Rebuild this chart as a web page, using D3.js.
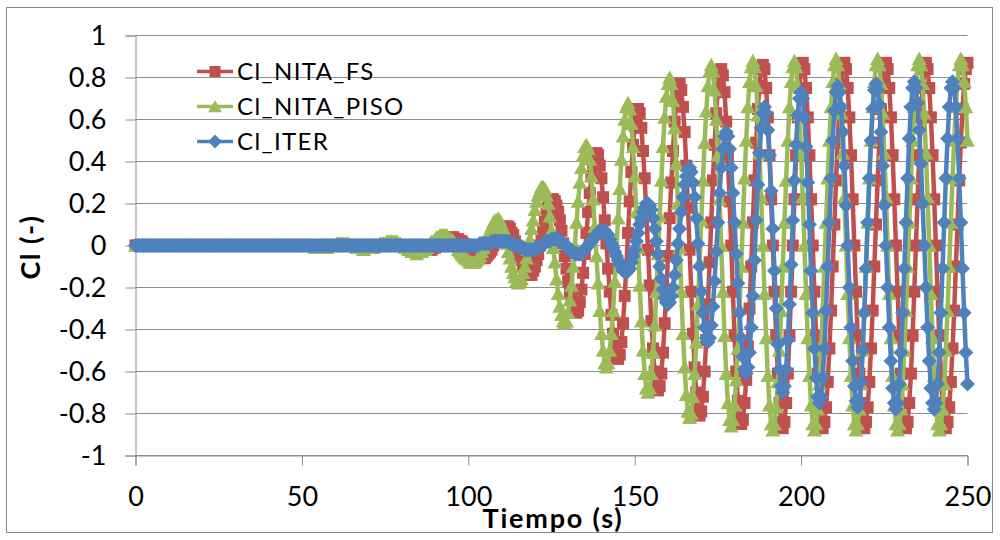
<!DOCTYPE html>
<html><head><meta charset="utf-8">
<script src="https://cdn.jsdelivr.net/npm/d3@7"></script>
<style>
body{margin:0;background:#fff}
svg{display:block}
text{font-family:Lato,"Open Sans","DejaVu Sans",sans-serif}
</style>
</head><body>
<svg id="c" width="1000" height="540"></svg>
<script>
// ---------- data (one sample every 0.5 s from t = 0 to 250 s) ----------
const seriesNames = ["Cl_NITA_FS", "Cl_NITA_PISO", "Cl_ITER"];
const sampleStep = 0.5;

const clNitaFs = [
0,0,0,0,0,0,0,0,0,0, 0,0,0,0,0,0,0,0,0,0,
0,0,0,0,0,0,0,0,0,0, 0,0,0,0,0,0,0,0,0,0,
0,0,0,0,0,0,0,0,0,0, 0,0,0,0,0,0,0,0,0,0,
0,0,0,0,0,0,0,0,0,0, 0,0,0,0,0,0,0,0,0,0,
0,0,0,0,0,0,0,0,0,0, 0,0,0,0,0,0,0,0,0,0,
0,0,0,0,0,0,0,0,0,0, 0,0,0,0,0,0,0,0,0,0,
0,0,0,0,0,0,0,0,0,0, 0,0,0,0,0,0,0,0,0,0,
0,0,0,0,0,0,0,0,0,0, 0,0,0,0,0,0,0,0,0,0,
0,
0,0,0,0,-0.01,-0.01,-0.01,-0.01,-0.01,-0.02,-0.02,-0.02,-0.02,-0.02,-0.02,
-0.02,-0.02,-0.02,-0.01,-0.01,0,0,0.01,0.01,0.02,0.02,0.03,0.03,0.03,0.03,0.04,
0.03,0.03,0.03,0.02,0.02,0.01,0,0,-0.01,-0.02,-0.03,-0.04,-0.04,-0.05,-0.05,-0.06,-0.06,-0.06,
-0.06,-0.05,-0.04,-0.03,-0.02,0,0.02,0.03,0.05,0.06,0.07,0.08,0.09,0.09,
0.09,0.08,0.06,0.05,0.02,0,-0.03,-0.05,-0.07,-0.1,-0.11,-0.13,-0.14,-0.14,
-0.14,-0.12,-0.1,-0.07,-0.04,0,0.04,0.08,0.12,0.15,0.18,0.2,0.22,0.22,
0.21,0.19,0.16,0.12,0.07,0.01,-0.05,-0.11,-0.17,-0.22,-0.26,-0.29,-0.31,-0.32,
-0.31,-0.27,-0.21,-0.13,-0.04,0.06,0.16,0.25,0.33,0.39,0.43,0.44,
0.43,0.38,0.32,0.23,0.12,0.01,-0.11,-0.22,-0.33,-0.42,-0.48,-0.53,-0.54,
-0.52,-0.46,-0.37,-0.24,-0.1,0.06,0.21,0.35,0.48,0.57,0.63,0.65,
0.63,0.56,0.45,0.32,0.15,-0.02,-0.19,-0.36,-0.49,-0.6,-0.67,-0.69,
-0.67,-0.61,-0.51,-0.37,-0.22,-0.05,0.13,0.3,0.45,0.59,0.69,0.75,0.77,
0.74,0.66,0.54,0.38,0.18,-0.02,-0.22,-0.42,-0.58,-0.7,-0.78,-0.81,
-0.79,-0.72,-0.6,-0.45,-0.28,-0.08,0.11,0.31,0.48,0.63,0.75,0.82,0.84,
0.81,0.73,0.59,0.42,0.21,0,-0.22,-0.43,-0.6,-0.74,-0.82,-0.85,
-0.83,-0.75,-0.64,-0.48,-0.3,-0.1,0.11,0.31,0.49,0.65,0.76,0.84,0.86,
0.84,0.75,0.61,0.43,0.22,0,-0.22,-0.43,-0.61,-0.75,-0.84,-0.87,
-0.84,-0.75,-0.61,-0.43,-0.22,0,0.22,0.43,0.61,0.75,0.84,0.87,
0.84,0.75,0.61,0.43,0.22,0,-0.22,-0.43,-0.61,-0.75,-0.84,-0.87,
-0.84,-0.77,-0.65,-0.49,-0.31,-0.1,0.1,0.31,0.49,0.65,0.77,0.84,0.87,
0.84,0.75,0.61,0.43,0.22,0,-0.22,-0.43,-0.61,-0.75,-0.84,-0.87,
-0.84,-0.77,-0.65,-0.49,-0.31,-0.1,0.1,0.31,0.49,0.65,0.77,0.84,0.87,
0.84,0.75,0.61,0.43,0.22,0,-0.22,-0.43,-0.61,-0.75,-0.84,-0.87,
-0.84,-0.75,-0.61,-0.43,-0.22,0,0.22,0.43,0.61,0.75,0.84,0.87,
0.84,0.75,0.61,0.43,0.22,0,-0.22,-0.43,-0.61,-0.75,-0.84,-0.87,
-0.84,-0.77,-0.65,-0.49,-0.31,-0.1,0.1,0.31,0.49,0.65,0.77,0.84,0.87
];

const clNitaPiso = [
0,0,0,0,0,0,0,0,0,0, 0,0,0,0,0,0,0,0,0,0,
0,0,0,0,0,0,0,0,0,0, 0,0,0,0,0,0,0,0,0,0,
0,0,0,0,0,0,0,0,0,0, 0,0,0,0,0,0,0,0,0,0,
0,0,0,0,0,0,0,0,0,0, 0,0,0,0,0,0,0,0,0,0,
0,0,0,0,0,0,0,0,0,0, 0,0,0,0,0,0,0,0,0,0,
0,0,0,0,0,
0,0,0,-0.01,-0.01,-0.01,-0.01,-0.01,
-0.01,-0.01,-0.01,0,0,0,0,0,0.01,0.01,0.01,0.01,
0.01,0.01,0.01,0.01,0,0,0,0,-0.01,-0.01,-0.01,-0.01,-0.02,
-0.01,-0.01,-0.01,-0.01,-0.01,-0.01,0,0,0,0.01,0.01,0.01,0.01,0.02,0.02,0.02,0.02,0.02,
0.02,0.02,0.01,0.01,0,0,-0.01,-0.01,-0.02,-0.02,-0.03,-0.03,-0.03,-0.04,
-0.03,-0.03,-0.03,-0.02,-0.02,-0.01,0,0.01,0.02,0.02,0.03,0.04,0.04,0.05,0.05,0.05,
0.05,0.05,0.04,0.03,0.03,0.02,0.01,0,-0.02,-0.03,-0.04,-0.05,-0.06,-0.06,-0.07,-0.08,-0.08,-0.08,
-0.08,-0.07,-0.06,-0.05,-0.03,-0.01,0.01,0.03,0.05,0.07,0.09,0.11,0.12,0.12,0.13,
0.12,0.1,0.08,0.05,0.01,-0.03,-0.06,-0.1,-0.13,-0.15,-0.17,-0.18,
-0.17,-0.16,-0.13,-0.1,-0.06,-0.02,0.03,0.08,0.12,0.17,0.21,0.24,0.26,0.28,0.28,
0.27,0.24,0.2,0.14,0.07,-0.01,-0.08,-0.16,-0.23,-0.29,-0.33,-0.36,-0.37,
-0.36,-0.32,-0.26,-0.19,-0.1,0,0.11,0.21,0.3,0.37,0.43,0.47,0.48,
0.46,0.41,0.33,0.22,0.09,-0.05,-0.18,-0.31,-0.42,-0.5,-0.56,-0.58,
-0.56,-0.5,-0.42,-0.31,-0.17,-0.03,0.13,0.27,0.41,0.52,0.6,0.66,0.68,
0.65,0.58,0.47,0.33,0.16,-0.01,-0.19,-0.36,-0.5,-0.61,-0.68,-0.7,
-0.68,-0.61,-0.51,-0.38,-0.22,-0.04,0.14,0.31,0.47,0.61,0.71,0.77,0.8,
0.77,0.69,0.56,0.39,0.2,-0.01,-0.22,-0.42,-0.58,-0.71,-0.79,-0.82,
-0.8,-0.72,-0.61,-0.46,-0.28,-0.08,0.12,0.31,0.49,0.64,0.76,0.83,0.86,
0.83,0.74,0.6,0.43,0.22,0,-0.22,-0.43,-0.61,-0.75,-0.83,-0.86,
-0.83,-0.76,-0.64,-0.49,-0.3,-0.1,0.11,0.32,0.5,0.66,0.78,0.85,0.88,
0.85,0.76,0.62,0.44,0.23,0,-0.23,-0.44,-0.62,-0.76,-0.85,-0.88,
-0.85,-0.77,-0.65,-0.5,-0.31,-0.1,0.11,0.31,0.5,0.66,0.78,0.85,0.88,
0.85,0.76,0.62,0.44,0.23,0,-0.23,-0.44,-0.62,-0.76,-0.85,-0.88,
-0.85,-0.78,-0.66,-0.5,-0.31,-0.1,0.11,0.32,0.5,0.66,0.78,0.86,0.89,
0.86,0.77,0.63,0.44,0.23,0,-0.23,-0.44,-0.62,-0.76,-0.85,-0.88,
-0.85,-0.78,-0.66,-0.5,-0.31,-0.1,0.11,0.32,0.5,0.66,0.78,0.86,0.89,
0.86,0.77,0.63,0.44,0.23,0,-0.23,-0.44,-0.62,-0.76,-0.85,-0.88,
-0.85,-0.78,-0.66,-0.5,-0.31,-0.1,0.11,0.32,0.5,0.66,0.78,0.86,0.89,
0.86,0.77,0.63,0.44,0.23,0,-0.23,-0.44,-0.62,-0.76,-0.85,-0.88,
-0.85,-0.78,-0.66,-0.5,-0.31,-0.1,0.11,0.32,0.5,0.66,0.78,0.86,0.89,
0.86,0.78,0.66,0.5
];

const clIter = [
0,0,0,0,0,0,0,0,0,0, 0,0,0,0,0,0,0,0,0,0,
0,0,0,0,0,0,0,0,0,0, 0,0,0,0,0,0,0,0,0,0,
0,0,0,0,0,0,0,0,0,0, 0,0,0,0,0,0,0,0,0,0,
0,0,0,0,0,0,0,0,0,0, 0,0,0,0,0,0,0,0,0,0,
0,0,0,0,0,0,0,0,0,0, 0,0,0,0,0,0,0,0,0,0,
0,0,0,0,0,0,0,0,0,0, 0,0,0,0,0,0,0,0,0,0,
0,0,0,0,0,0,0,0,0,0, 0,0,0,0,0,0,0,0,0,0,
0,0,0,0,0,0,0,0,0,0, 0,0,0,0,0,0,0,0,0,0,
0,0,0,0,0,0,0,0,0,0, 0,0,0,0,0,0,0,0,0,0,
0,0,0,0,0,0,0,0,0,0, 0,0,0,0,0,0,0,0,0,0,
0,
0,0,0,0,0,0,0.01,0.01,0.01,0.01,0.01,0.01,0.01,0.02,0.02,0.02,0.02,0.02,0.02,0.02,
0.02,0.02,0.02,0.02,0.01,0.01,0.01,0,0,0,-0.01,-0.01,-0.01,-0.02,-0.02,-0.02,-0.02,-0.02,
-0.02,-0.02,-0.01,-0.01,-0.01,0,0.01,0.01,0.02,0.02,0.02,0.03,0.03,0.03,
0.03,0.03,0.02,0.02,0.01,0,0,-0.01,-0.02,-0.03,-0.03,-0.04,-0.04,-0.04,
-0.04,-0.04,-0.03,-0.02,-0.01,0,0.01,0.02,0.03,0.04,0.05,0.06,0.07,0.07,0.07,
0.07,0.06,0.05,0.03,0.01,-0.01,-0.03,-0.05,-0.07,-0.09,-0.1,-0.12,-0.12,-0.13,
-0.12,-0.11,-0.08,-0.05,-0.02,0.02,0.06,0.1,0.13,0.16,0.18,0.2,0.2,
0.19,0.17,0.13,0.08,0.02,-0.04,-0.1,-0.16,-0.21,-0.25,-0.27,-0.28,
-0.27,-0.24,-0.2,-0.14,-0.07,0.01,0.08,0.16,0.23,0.29,0.33,0.36,0.37,
0.35,0.3,0.23,0.13,0.01,-0.1,-0.22,-0.32,-0.39,-0.44,-0.46,
-0.44,-0.38,-0.29,-0.17,-0.03,0.11,0.25,0.37,0.46,0.52,0.54,
0.52,0.46,0.37,0.25,0.11,-0.04,-0.18,-0.32,-0.44,-0.53,-0.59,-0.61,
-0.58,-0.51,-0.39,-0.24,-0.07,0.12,0.29,0.44,0.56,0.63,0.66,
0.63,0.55,0.43,0.26,0.08,-0.12,-0.3,-0.47,-0.59,-0.67,-0.7,
-0.67,-0.59,-0.45,-0.28,-0.09,0.12,0.31,0.48,0.62,0.7,0.73,
0.7,0.61,0.47,0.3,0.1,-0.12,-0.32,-0.49,-0.63,-0.72,-0.75,
-0.72,-0.63,-0.49,-0.31,-0.1,0.11,0.32,0.5,0.64,0.73,0.76,
0.73,0.66,0.54,0.38,0.19,0,-0.2,-0.39,-0.55,-0.67,-0.74,-0.77,
-0.74,-0.65,-0.5,-0.32,-0.11,0.11,0.32,0.5,0.65,0.74,0.77,
0.74,0.67,0.54,0.38,0.19,0,-0.2,-0.39,-0.55,-0.68,-0.75,-0.78,
-0.75,-0.66,-0.51,-0.32,-0.11,0.11,0.32,0.51,0.66,0.75,0.78,
0.75,0.68,0.55,0.39,0.2,0,-0.2,-0.39,-0.55,-0.68,-0.75,-0.78,
-0.75,-0.66,-0.51,-0.32,-0.11,0.11,0.32,0.51,0.66,0.75,0.78,
0.75,0.66,0.51,0.32,0.11,-0.11,-0.32,-0.51,-0.66
];

const xTicks = [0, 50, 100, 150, 200, 250];
const xTickLabels = ["0", "50", "100", "150", "200", "250"];
const yTicks = [-1, -0.8, -0.6, -0.4, -0.2, 0, 0.2, 0.4, 0.6, 0.8, 1];
const yTickLabels = ["-1", "-0.8", "-0.6", "-0.4", "-0.2", "0", "0.2", "0.4", "0.6", "0.8", "1"];
const xTitle = "Tiempo (s)";
const yTitle = "Cl (-)";

// ---------- drawing ----------
const svg = d3.select("#c");
const gridColor = "#8e8e8e";
const colors = ["#C0504D", "#9BBB59", "#4F81BD"];

const x = d3.scaleLinear().domain([0, 250]).range([135.5, 967.5]);
const y = d3.scaleLinear().domain([-1, 1]).range([455.5, 35.5]);

// chart frame
svg.append("rect").attr("x", 6.5).attr("y", 7.5).attr("width", 986).attr("height", 525)
  .attr("fill", "#fff").attr("stroke", "#8a8a8a").attr("stroke-width", 1);

// horizontal gridlines
svg.append("g").selectAll("line").data(yTicks).join("line")
  .attr("x1", x(0)).attr("x2", x(250))
  .attr("y1", d => y(d)).attr("y2", d => y(d))
  .attr("stroke", gridColor).attr("stroke-width", 1);

// axes
const yAxis = d3.axisLeft(y).tickValues(yTicks).tickSize(10).tickPadding(19)
  .tickFormat((d, i) => yTickLabels[i]);
const gy = svg.append("g").attr("transform", `translate(${x(0)},0)`).call(yAxis);

const xAxis = d3.axisBottom(x).tickValues(xTicks).tickSize(10).tickPadding(21)
  .tickFormat((d, i) => xTickLabels[i]);
const gx = svg.append("g").attr("transform", `translate(0,${y(-1)})`).call(xAxis);

[gx, gy].forEach(g => {
  g.select(".domain").attr("stroke", gridColor);
  g.selectAll(".tick line").attr("stroke", gridColor);
  g.selectAll(".tick text").attr("fill", "#000").attr("font-size", 27)
    .attr("font-family", "Lato, 'Open Sans', sans-serif");
});

// marker shapes
const squareMark = { draw(ctx, s) { const h = Math.sqrt(s) / 2; ctx.rect(-h, -h, 2 * h, 2 * h); } };
const triangleMark = { draw(ctx, s) { const w = Math.sqrt(s);
  ctx.moveTo(0, -w * 0.47); ctx.lineTo(w / 2, w * 0.42); ctx.lineTo(-w / 2, w * 0.42); ctx.closePath(); } };
const diamondMark = { draw(ctx, s) { const r = Math.sqrt(s) / 2;
  ctx.moveTo(0, -r); ctx.lineTo(r, 0); ctx.lineTo(0, r); ctx.lineTo(-r, 0); ctx.closePath(); } };
const markTypes = [squareMark, triangleMark, diamondMark];
const markSizes = [144, 225, 225];

const allSeries = [clNitaFs, clNitaPiso, clIter];
const line = d3.line().x((d, i) => x(i * sampleStep)).y(d => y(d));

allSeries.forEach((vals, si) => {
  const g = svg.append("g");
  g.append("path").datum(vals).attr("d", line).attr("fill", "none")
    .attr("stroke", colors[si]).attr("stroke-width", 4.5).attr("stroke-linejoin", "round");
  const sym = d3.symbol().type(markTypes[si]).size(markSizes[si]);
  g.selectAll("path.m").data(vals).join("path").attr("class", "m")
    .attr("d", sym)
    .attr("transform", (d, i) => `translate(${x(i * sampleStep)},${y(d)})`)
    .attr("fill", colors[si]);
});

// legend
const legend = svg.append("g");
const legY = [71.5, 106.5, 141.5];
seriesNames.forEach((name, i) => {
  const g = legend.append("g").attr("transform", `translate(0,${legY[i]})`);
  g.append("line").attr("x1", 197).attr("x2", 233).attr("y1", 0).attr("y2", 0)
    .attr("stroke", colors[i]).attr("stroke-width", 3.5);
  g.append("path").attr("d", d3.symbol().type(markTypes[i]).size(markSizes[i] * 0.85)())
    .attr("transform", "translate(215,0)").attr("fill", colors[i]);
  g.append("text").attr("x", 237).attr("y", 0).attr("dy", "0.36em")
    .attr("font-size", 24).attr("letter-spacing", 1.4).attr("fill", "#000").text(name);
});

// axis titles
svg.append("text").attr("x", 553).attr("y", 528).attr("text-anchor", "middle")
  .attr("font-size", 27).attr("letter-spacing", 1.8).attr("font-weight", "bold").attr("fill", "#000").text(xTitle);
svg.append("text").attr("transform", "translate(40,247) rotate(-90)").attr("text-anchor", "middle")
  .attr("font-size", 27).attr("letter-spacing", 1.5).attr("font-weight", "bold").attr("fill", "#000").text(yTitle);
</script>
</body></html>
